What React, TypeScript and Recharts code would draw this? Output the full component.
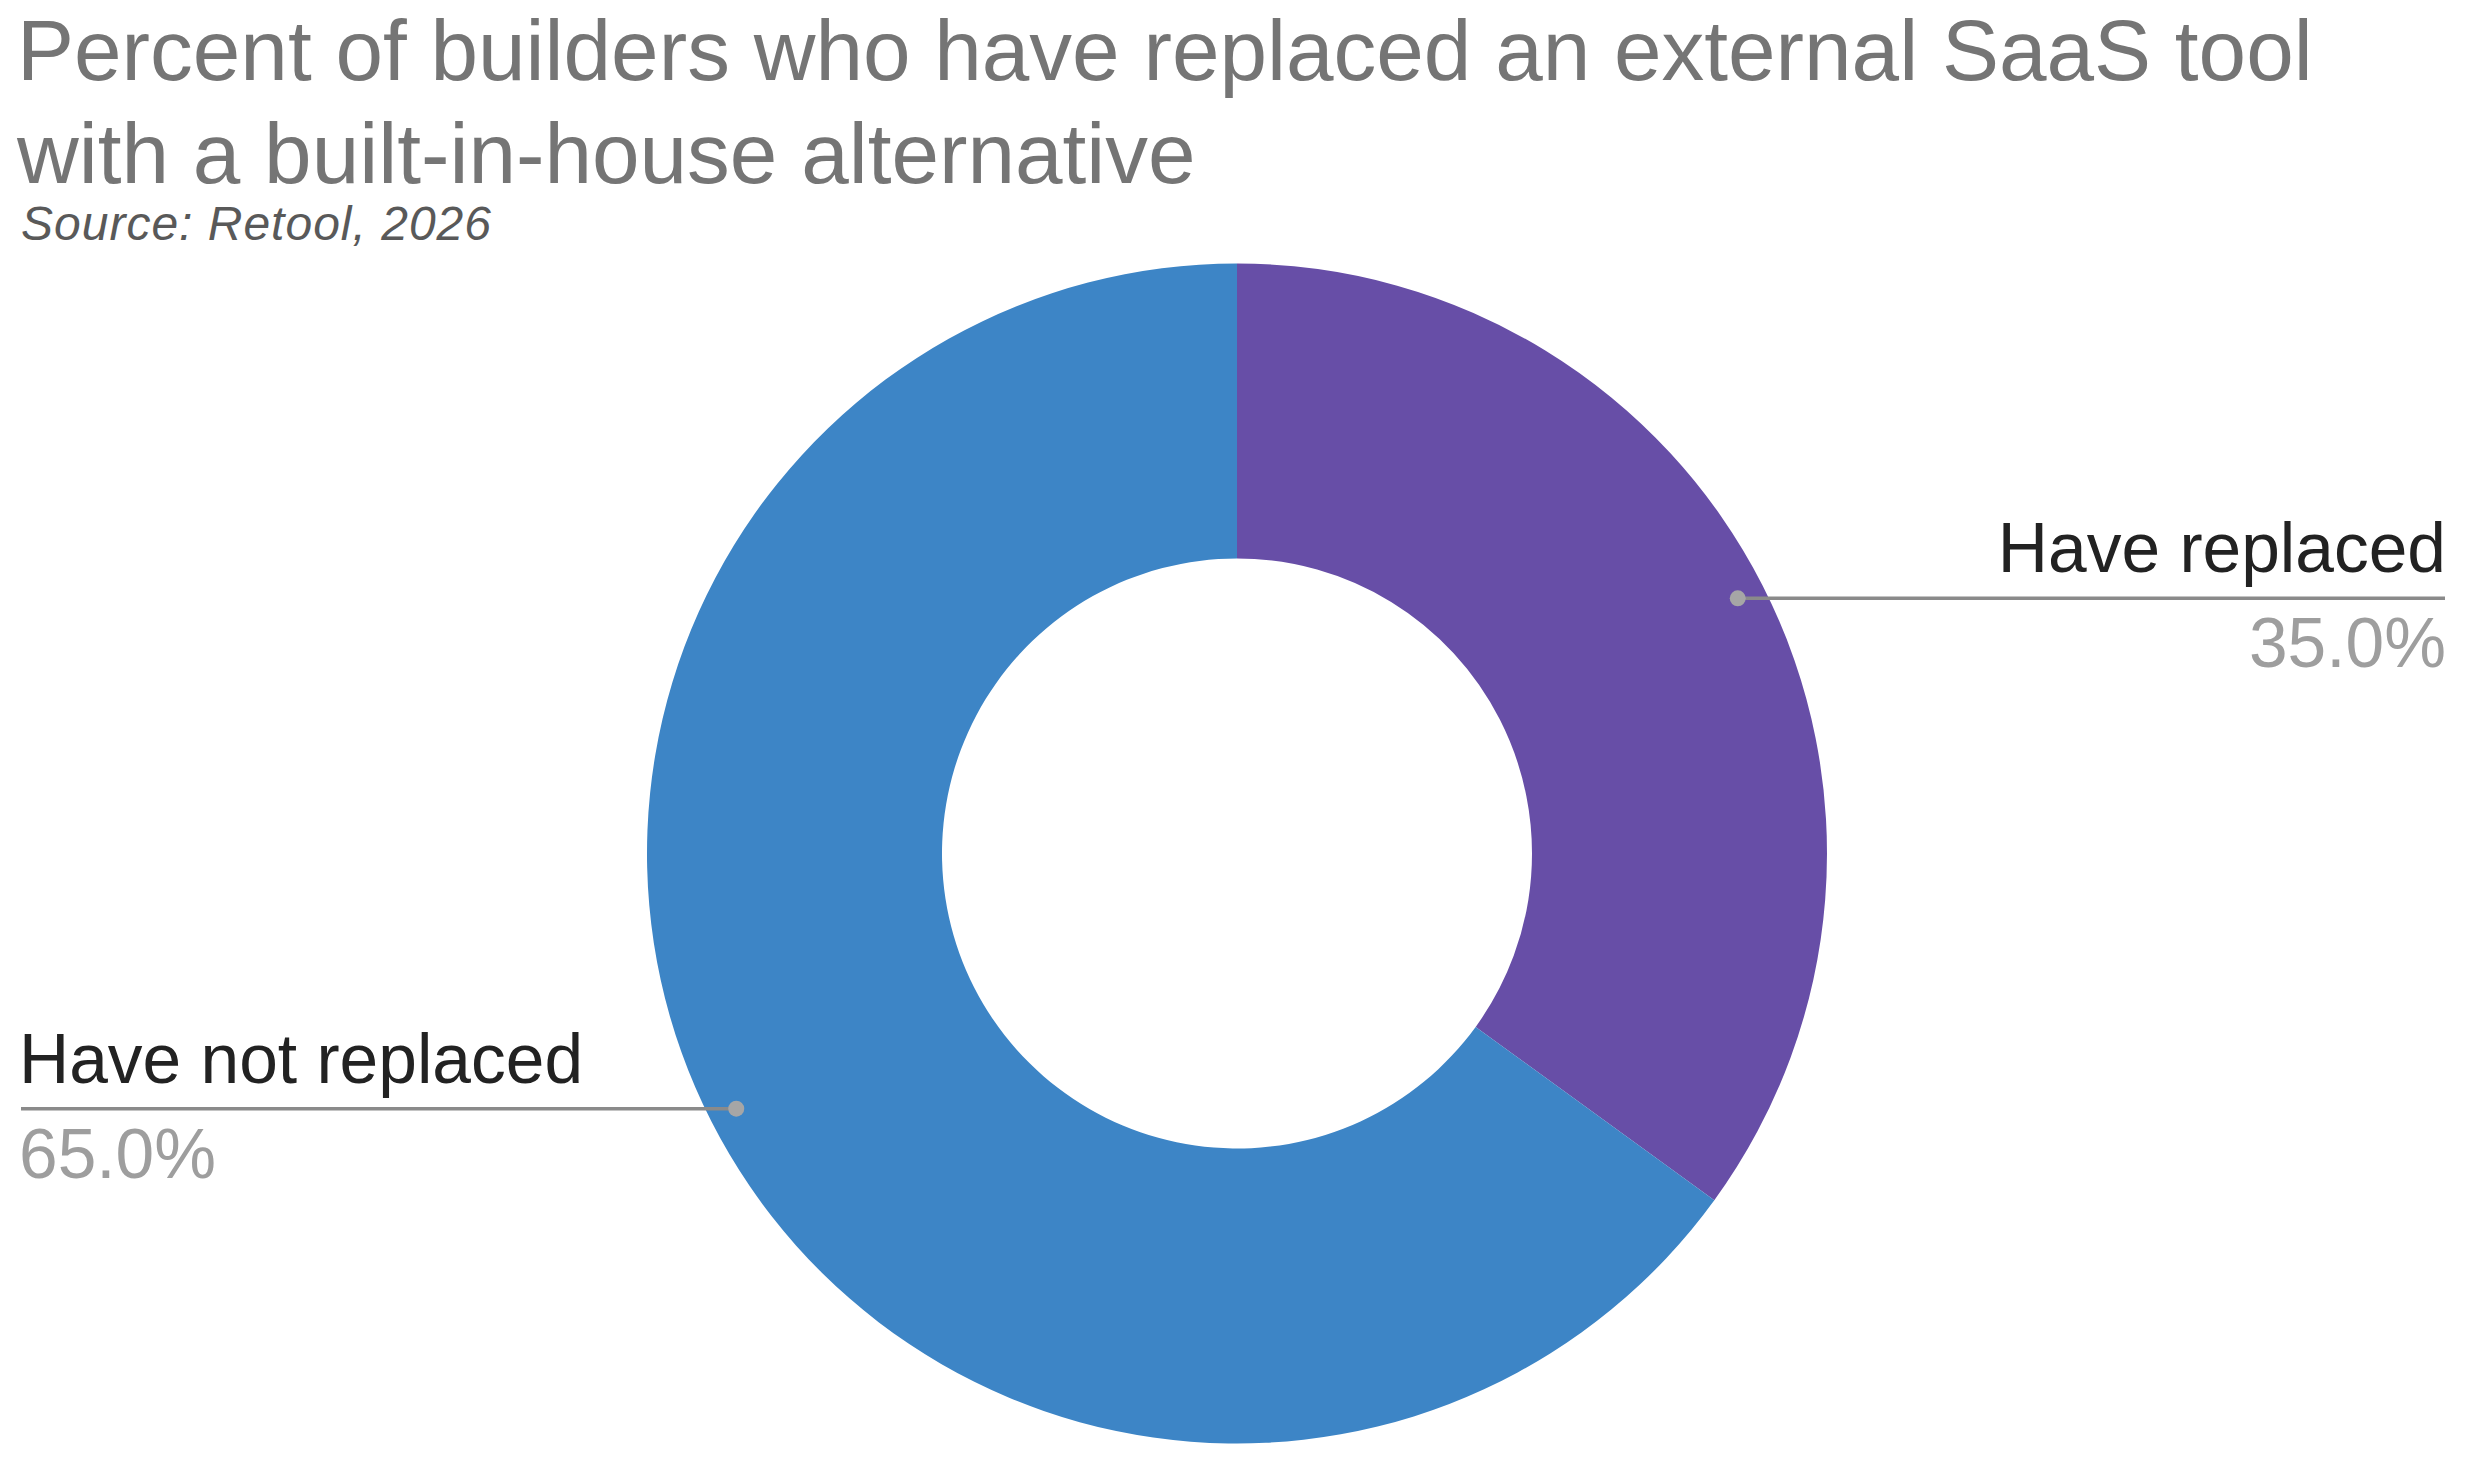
import React from "react";
import { PieChart, Pie, Cell } from "recharts";

const categories = ["Have replaced", "Have not replaced"];
const values = [35.0, 65.0];
const sliceColors = ["#674ea7", "#3d85c6"];
const titleLines = [
  "Percent of builders who have replaced an external SaaS tool",
  "with a built-in-house alternative",
];
const subtitle = "Source: Retool, 2026";

const data = categories.map((name, i) => ({ name, value: values[i] }));

const W = 2474;
const H = 1462;
const FONT = '"Liberation Sans", Arial, Helvetica, sans-serif';

const renderLabel = (props: any) => {
  const { cx, cy, midAngle, outerRadius, index } = props;
  const RAD = Math.PI / 180;
  const r = outerRadius - 28;
  const x = cx + r * Math.cos(-midAngle * RAD);
  const y = cy + r * Math.sin(-midAngle * RAD);
  const right = x > cx;
  const lineEnd = right ? 2445 : 21;
  const textX = right ? 2446 : 19;
  const anchor = right ? "end" : "start";
  return (
    <g key={`lbl-${index}`}>
      <line x1={x} y1={y} x2={lineEnd} y2={y} stroke="#8a8a8a" strokeWidth={3.5} />
      <circle cx={x} cy={y} r={8} fill="#a6a6a6" />
      <text x={textX} y={y - 26} textAnchor={anchor} fontFamily={FONT} fontSize={69.5} fill="#222222">
        {categories[index]}
      </text>
      <text x={textX} y={y + 69} textAnchor={anchor} fontFamily={FONT} fontSize={69.5} fill="#9e9e9e">
        {`${values[index].toFixed(1)}%`}
      </text>
    </g>
  );
};

export default function App() {
  return (
    <div style={{ position: "absolute", left: 0, top: 0, width: W, height: H, background: "#ffffff" }}>
      <PieChart width={W} height={H}>
        <Pie
          data={data}
          dataKey="value"
          nameKey="name"
          cx={1232}
          cy={848.5}
          innerRadius={295}
          outerRadius={590}
          startAngle={90}
          endAngle={-270}
          stroke="none"
          label={renderLabel}
          labelLine={false}
          isAnimationActive={false}
        >
          {data.map((d, i) => (
            <Cell key={d.name} fill={sliceColors[i]} />
          ))}
        </Pie>
      </PieChart>
      <svg
        width={W}
        height={300}
        style={{ position: "absolute", left: 0, top: 0, pointerEvents: "none" }}
      >
        {titleLines.map((t, i) => (
          <text key={t} x={17} y={80 + i * 103} fontFamily={FONT} fontSize={85.5} fill="#757575">
            {t}
          </text>
        ))}
        <text
          x={21}
          y={240}
          fontFamily={FONT}
          fontSize={48}
          letterSpacing={1}
          fontStyle="italic"
          fill="#595959"
        >
          {subtitle}
        </text>
      </svg>
    </div>
  );
}
